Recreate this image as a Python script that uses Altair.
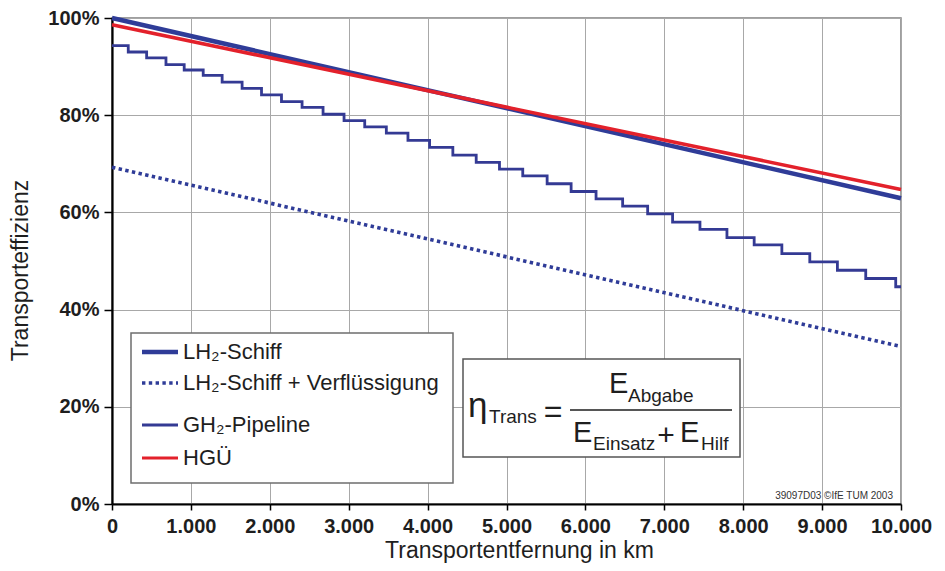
import altair as alt
import pandas as pd

# ---------------- data ----------------
x_lin = [0, 10000]
lh2_schiff = [1.000, 0.629]          # LH2-Schiff
hgue = [0.986, 0.647]                # HGÜ
lh2_verfl = [0.693, 0.324]           # LH2-Schiff + Verflüssigung

pipe_x = [0, 206, 439, 684, 915, 1156, 1396, 1649, 1895, 2148,
          2409, 2675, 2941, 3203, 3477, 3751, 4025, 4320, 4616, 4911,
          5206, 5515, 5819, 6135, 6472, 6789, 7105, 7452, 7794, 8139,
          8490, 8844, 9194, 9553, 9933, 10000]
pipe_pct = [94.3, 93.0, 91.8, 90.4, 89.3, 88.2, 86.8, 85.5, 84.2, 82.8,
            81.6, 80.2, 78.9, 77.6, 76.3, 74.8, 73.4, 71.8, 70.3, 68.9,
            67.5, 65.9, 64.3, 62.8, 61.3, 59.7, 58.0, 56.5, 54.8, 53.3,
            51.5, 49.8, 48.1, 46.4, 44.7, 44.7]

x_ticks = [0, 1000, 2000, 3000, 4000, 5000, 6000, 7000, 8000, 9000, 10000]
y_ticks = [0, 0.2, 0.4, 0.6, 0.8, 1.0]

legend_labels = ["LH\u2082-Schiff", "LH\u2082-Schiff + Verflüssigung", "GH\u2082-Pipeline", "HGÜ"]

# ---------------- styling ----------------
FONT = "Liberation Sans"
TXT = "#1e1e1e"
BLUE = "#2F3C98"
BLUE2 = "#343A94"
RED = "#E3212B"

W, H = 789, 486

x_enc = alt.X(
    "km:Q",
    scale=alt.Scale(domain=[0, 10000], nice=False, zero=True),
    axis=alt.Axis(
        values=x_ticks,
        labelExpr="replace(format(datum.value, ','), ',', '.')",
        labelFlush=False, labelOverlap=False,
        grid=True, gridColor="#A8A8A8", gridWidth=1,
        domainColor="black", domainWidth=2.2,
        tickColor="black", tickWidth=1.5, tickSize=6,
        labelFont=FONT, labelFontSize=20, labelFontWeight="bold", labelColor=TXT,
        labelPadding=6,
        title="Transportentfernung in km", titleFont=FONT, titleFontSize=23,
        titleFontWeight="normal", titleColor=TXT,
        titleX=407, titleY=53, titleAlign="center", titleBaseline="alphabetic",
    ),
)
y_enc = alt.Y(
    "eff:Q",
    scale=alt.Scale(domain=[0, 1], nice=False, zero=True),
    axis=alt.Axis(
        values=y_ticks, format=".0%",
        grid=True, gridColor="#A8A8A8", gridWidth=1,
        domainColor="black", domainWidth=2.2,
        tickColor="black", tickWidth=1.5, tickSize=8,
        labelFont=FONT, labelFontSize=20, labelFontWeight="bold", labelColor=TXT,
        labelPadding=5,
        title="Transporteffizienz", titleFont=FONT, titleFontSize=23,
        titleFontWeight="normal", titleColor=TXT,
        titleX=-92, titleY=252, titleAngle=270, titleAlign="center", titleBaseline="middle",
    ),
)

df_schiff = pd.DataFrame({"km": x_lin, "eff": lh2_schiff})
df_hgue = pd.DataFrame({"km": x_lin, "eff": hgue})
df_verfl = pd.DataFrame({"km": x_lin, "eff": lh2_verfl})
df_pipe = pd.DataFrame({"km": pipe_x, "eff": [v / 100 for v in pipe_pct]})
one = pd.DataFrame({"a": [0]})

verfl = alt.Chart(df_verfl).mark_line(color=BLUE, strokeWidth=3.6, strokeDash=[3.4, 3.4]).encode(x=x_enc, y=y_enc)
pipe = alt.Chart(df_pipe).mark_line(color=BLUE2, strokeWidth=2.8, interpolate="step-after").encode(x=x_enc, y=y_enc)
schiff = alt.Chart(df_schiff).mark_line(color=BLUE, strokeWidth=4.5).encode(x=x_enc, y=y_enc)
hg = alt.Chart(df_hgue).mark_line(color=RED, strokeWidth=3.6).encode(x=x_enc, y=y_enc)

# ---------------- legend box ----------------
leg_box = alt.Chart(one).mark_rect(fill="white", stroke="#6E6E6E", strokeWidth=1.5).encode(
    x=alt.value(19), x2=alt.value(341), y=alt.value(315), y2=alt.value(465))
leg_rows = [334, 365, 407, 440]
leg_styles = [
    dict(color=BLUE, strokeWidth=4.5),
    dict(color=BLUE, strokeWidth=3.6, strokeDash=[3.4, 3.4]),
    dict(color=BLUE2, strokeWidth=3.0),
    dict(color=RED, strokeWidth=3.2),
]
leg_layers = []
for lab, ry, st in zip(legend_labels, leg_rows, leg_styles):
    leg_layers.append(alt.Chart(one).mark_rule(**st).encode(
        x=alt.value(30), x2=alt.value(66), y=alt.value(ry)))
    leg_layers.append(alt.Chart(one).mark_text(
        text=lab, align="left", baseline="middle", font=FONT, fontSize=22, color=TXT
    ).encode(x=alt.value(71), y=alt.value(ry)))

# ---------------- formula box ----------------
f_box = alt.Chart(one).mark_rect(fill="white", stroke="#555555", strokeWidth=1.5).encode(
    x=alt.value(351), x2=alt.value(628), y=alt.value(341), y2=alt.value(439))
f_line = alt.Chart(one).mark_rule(color=TXT, strokeWidth=1.5).encode(
    x=alt.value(458), x2=alt.value(620), y=alt.value(392))

def ftxt(t, x, y, size, align="left"):
    return alt.Chart(one).mark_text(
        text=t, align=align, baseline="alphabetic", font=FONT, fontSize=size, color=TXT
    ).encode(x=alt.value(x), y=alt.value(y))

formula = [
    ftxt("η", 356, 399, 35),
    ftxt("Trans", 377, 405, 19),
    ftxt("=", 441, 404, 32, align="center"),
    ftxt("E", 497, 375, 29),
    ftxt("Abgabe", 516, 384, 19),
    ftxt("E", 461, 424, 29),
    ftxt("Einsatz", 481, 432, 19),
    ftxt("+", 554, 427, 30, align="center"),
    ftxt("E", 568, 424, 29),
    ftxt("Hilf", 589, 432, 19),
]

mark_note = alt.Chart(one).mark_text(
    text="39097D03 ©IfE TUM 2003", align="right", baseline="middle",
    font=FONT, fontSize=10, color="#333333"
).encode(x=alt.value(781), y=alt.value(478))

chart = alt.layer(
    verfl, pipe, schiff, hg,
    leg_box, *leg_layers,
    f_box, f_line, *formula,
    mark_note,
).properties(
    width=W, height=H,
    autosize=alt.AutoSizeParams(type="none"),
    padding={"left": 104, "top": 10, "right": 36, "bottom": 59},
    background="white",
).configure_view(stroke="#808080", strokeWidth=1.5)

chart.save("out.html", embed_options={"renderer": "svg", "actions": False})
